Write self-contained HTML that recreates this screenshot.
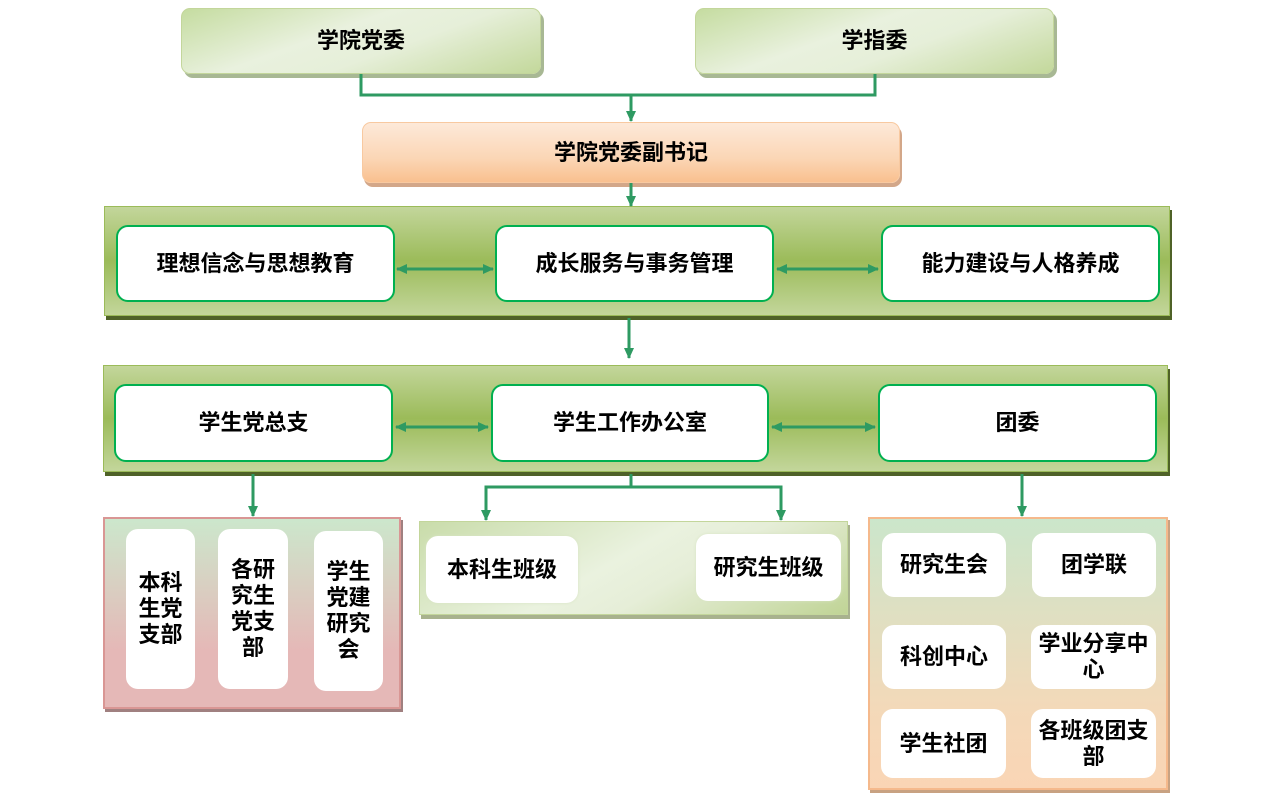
<!DOCTYPE html>
<html><head><meta charset="utf-8"><style>
body{margin:0;width:1281px;height:800px;background:#fff;position:relative;overflow:hidden;font-family:"Liberation Sans","Noto Sans CJK SC",sans-serif;font-weight:bold;color:#000}
.b{position:absolute;display:flex;align-items:center;justify-content:center;text-align:center;box-sizing:border-box;font-size:22px;line-height:26px}
.top{background:linear-gradient(160deg,#c5dca0 0%,#e9f1de 40%,#e6efd9 60%,#c3d89b 100%);border:1px solid #c3d69b;border-radius:9px;box-shadow:3px 4px 0 #a8b894}
.org{background:linear-gradient(180deg,#fde9d9 0%,#fbd6b5 60%,#f9c08f 100%);border:1px solid #f8c9a0;border-radius:9px;box-shadow:2px 4px 0 #d3a789}
.pan{background:linear-gradient(180deg,#c3d69b 0%,#9bbb59 50%,#c3d69b 100%);border:1px solid #9bbb59;box-shadow:2px 4px 0 #4f6228}
.w{background:#fff;border:2px solid #00b050;border-radius:12px}
.wi{background:#fff;border-radius:12px}
</style></head><body>
<div class="b top" style="left:181px;top:8px;width:360px;height:66px">学院党委</div>
<div class="b top" style="left:695px;top:8px;width:359px;height:66px">学指委</div>
<div class="b org" style="left:362px;top:122px;width:538px;height:61px">学院党委副书记</div>

<div class="b pan" style="left:104px;top:206px;width:1066px;height:110px"></div>
<div class="b w" style="left:116px;top:225px;width:279px;height:77px">理想信念与思想教育</div>
<div class="b w" style="left:495px;top:225px;width:279px;height:77px">成长服务与事务管理</div>
<div class="b w" style="left:881px;top:225px;width:279px;height:77px">能力建设与人格养成</div>

<div class="b pan" style="left:103px;top:365px;width:1065px;height:107px"></div>
<div class="b w" style="left:114px;top:384px;width:279px;height:78px">学生党总支</div>
<div class="b w" style="left:491px;top:384px;width:278px;height:78px">学生工作办公室</div>
<div class="b w" style="left:878px;top:384px;width:279px;height:78px">团委</div>

<div class="b" style="left:103px;top:517px;width:298px;height:192px;background:linear-gradient(180deg,#cce7cc 0%,#e5b8b7 70%);border:2px solid #d99694;box-shadow:2px 3px 0 #a08080"></div>
<div class="b wi" style="left:126px;top:529px;width:69px;height:160px;padding:0 12px">本科生党支部</div>
<div class="b wi" style="left:218px;top:529px;width:70px;height:160px;padding:0 12px">各研究生党支部</div>
<div class="b wi" style="left:314px;top:531px;width:69px;height:160px;padding:0 12px">学生党建研究会</div>

<div class="b" style="left:419px;top:521px;width:429px;height:94px;background:linear-gradient(150deg,#c9dcaa 0%,#eaf2df 45%,#e6eed8 60%,#c0d496 100%);border:1px solid #c3d69b;box-shadow:2px 4px 0 #a8b28e"></div>
<div class="b wi" style="left:426px;top:536px;width:152px;height:67px;box-shadow:0 0 3px #d8e4c4">本科生班级</div>
<div class="b wi" style="left:696px;top:534px;width:145px;height:67px;box-shadow:0 0 3px #d8e4c4">研究生班级</div>

<div class="b" style="left:868px;top:517px;width:300px;height:273px;background:linear-gradient(180deg,#cbe6cb 0%,#f3d9b9 70%,#fad5b5 100%);border:2px solid #f5b98c;box-shadow:2px 3px 0 #c8a282"></div>
<div class="b wi" style="left:882px;top:533px;width:124px;height:64px">研究生会</div>
<div class="b wi" style="left:1032px;top:533px;width:124px;height:64px">团学联</div>
<div class="b wi" style="left:882px;top:625px;width:124px;height:64px">科创中心</div>
<div class="b wi" style="left:1031px;top:625px;width:125px;height:64px;padding:0 4px">学业分享中心</div>
<div class="b wi" style="left:881px;top:709px;width:125px;height:69px">学生社团</div>
<div class="b wi" style="left:1031px;top:709px;width:125px;height:69px;padding:0 4px">各班级团支部</div>

<svg width="1281" height="800" style="position:absolute;left:0;top:0" fill="none" stroke="#2e9a62" stroke-width="3">
<defs>
<marker id="m" markerWidth="12" markerHeight="12" refX="10" refY="6" orient="auto-start-reverse" markerUnits="userSpaceOnUse" viewBox="0 0 12 12"><path d="M0,1 L11,6 L0,11z" fill="#2e9a62" stroke="none"/></marker></defs>
<polyline points="361,74 361,95 875,95 875,74"/>
<line x1="631" y1="95" x2="631" y2="121" marker-end="url(#m)"/>
<line x1="631" y1="183" x2="631" y2="206" marker-end="url(#m)"/>
<line x1="629" y1="318" x2="629" y2="358" marker-end="url(#m)"/>
<line x1="397" y1="269" x2="493" y2="269" marker-start="url(#m)" marker-end="url(#m)"/>
<line x1="777" y1="269" x2="878" y2="269" marker-start="url(#m)" marker-end="url(#m)"/>
<line x1="396" y1="427" x2="488" y2="427" marker-start="url(#m)" marker-end="url(#m)"/>
<line x1="772" y1="427" x2="875" y2="427" marker-start="url(#m)" marker-end="url(#m)"/>
<line x1="253" y1="474" x2="253" y2="516" marker-end="url(#m)"/>
<line x1="1022" y1="474" x2="1022" y2="516" marker-end="url(#m)"/>
<line x1="631" y1="474" x2="631" y2="487"/>
<polyline points="486,520 486,487 781,487 781,520" marker-start="url(#m)" marker-end="url(#m)"/>
</svg>
</body></html>
